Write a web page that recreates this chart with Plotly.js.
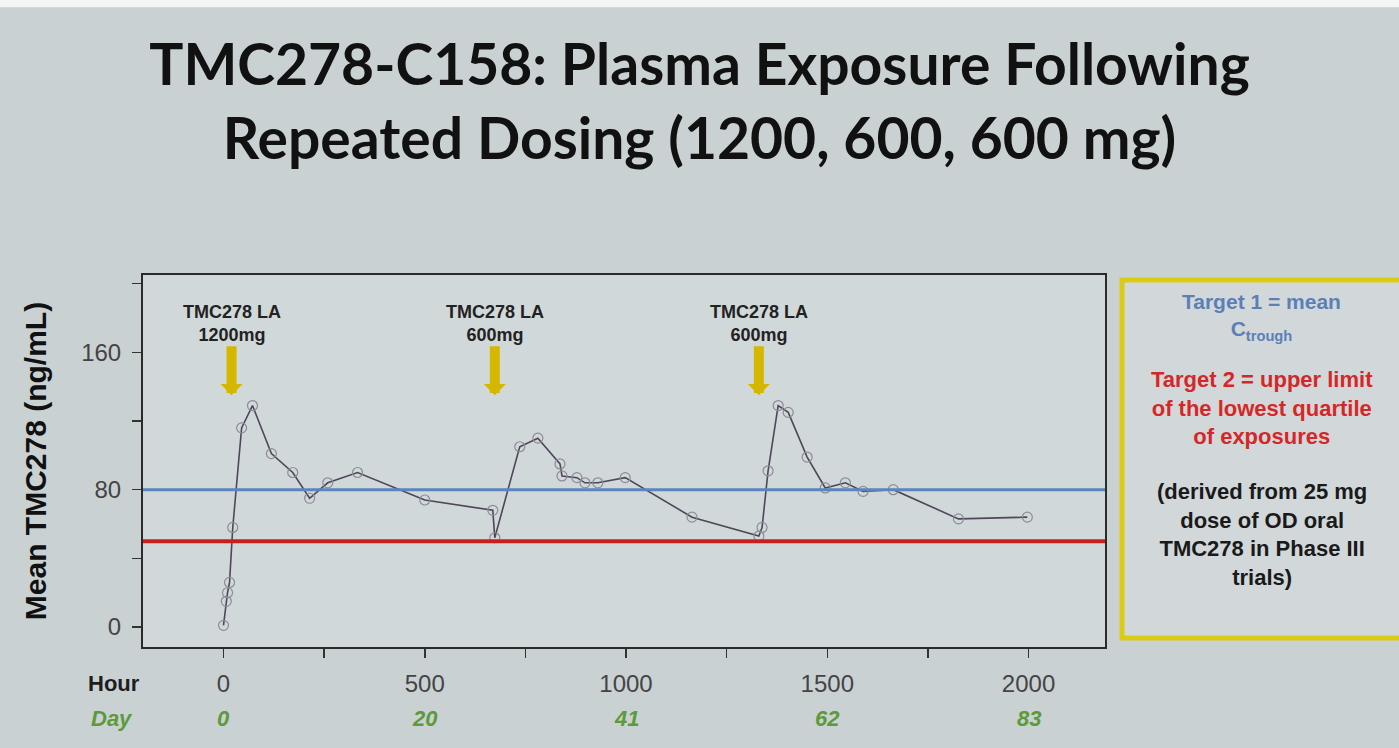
<!DOCTYPE html>
<html>
<head>
<meta charset="utf-8">
<script src="https://cdn.plot.ly/plotly-3.0.1.min.js"></script>
<style>
  html, body { margin: 0; padding: 0; background: #cad1d3; }
  #chart { width: 1399px; height: 748px; }
</style>
</head>
<body>
<div id="chart"></div>
<script>
// ---- data ----
const hours = [0, 7, 10, 15, 23, 45, 72, 119, 172, 214, 259, 333, 500, 669, 674, 736, 781, 836, 841, 878, 898, 930, 998, 1164, 1330, 1338, 1353, 1378, 1403, 1450, 1495, 1545, 1589, 1664, 1826, 1997];
const conc  = [1, 15, 20, 26, 58, 116, 129, 101, 90, 75, 84, 90, 74, 68, 52, 105, 110, 95, 88, 87, 84, 84, 87, 64, 53, 58, 91, 129, 125, 99, 81, 84, 79, 80, 63, 64];

const target1 = 80;   // mean Ctrough (blue)
const target2 = 50;   // upper limit lowest quartile (red)

const doseHours  = [20, 674, 1330];
const doseLabels = ["TMC278 LA<br>1200mg", "TMC278 LA<br>600mg", "TMC278 LA<br>600mg"];

const xTickVals  = [0, 250, 500, 750, 1000, 1250, 1500, 1750, 2000];
const xTickText  = ["0", " ", "500", " ", "1000", " ", "1500", " ", "2000"];
const dayHours   = [0, 500, 1000, 1500, 2000];
const dayLabels  = ["0", "20", "41", "62", "83"];
const yTickVals  = [0, 40, 80, 120, 160, 200];
const yTickText  = ["0", " ", "80", " ", "160", " "];

const titleText = "TMC278-C158: Plasma Exposure Following<br>Repeated Dosing (1200, 600, 600 mg)";
const yTitle = "Mean TMC278 (ng/mL)";
const boxBlue  = "Target 1 = mean<br>C<sub>trough</sub>";
const boxRed   = "Target 2 = upper limit<br>of the lowest quartile<br>of exposures";
const boxBlack = "(derived from 25 mg<br>dose of OD oral<br>TMC278 in Phase III<br>trials)";

// ---- traces ----
const traces = [{
  x: hours, y: conc,
  type: "scatter", mode: "lines+markers",
  line: { color: "#4d4759", width: 1.6 },
  marker: { symbol: "circle-open", size: 10, color: "#8d8c95", line: { width: 1.2 } },
  hoverinfo: "x+y"
}];

const W = "Liberation Sans, Arial, sans-serif";

const annotations = [];
doseHours.forEach((h, i) => {
  annotations.push({
    x: h, y: 135, xref: "x", yref: "y",
    text: "<b>" + doseLabels[i] + "</b>",
    showarrow: true, ax: 0, ay: -72,
    arrowhead: 1, arrowwidth: 10, arrowsize: 0.37, arrowcolor: "#d6b700",
    font: { family: W, size: 18, color: "#222" }
  });
});
dayHours.forEach((h, i) => {
  annotations.push({
    x: h, y: -0.191, xref: "x", yref: "paper",
    text: "<b><i>" + dayLabels[i] + "</i></b>", showarrow: false,
    xanchor: "center", yanchor: "middle",
    font: { family: W, size: 22, color: "#5c9a3a" }
  });
});
annotations.push({
  x: -0.001, y: -0.097, xref: "paper", yref: "paper", text: "<b>Hour</b>",
  showarrow: false, xanchor: "right", yanchor: "middle",
  font: { family: W, size: 22, color: "#1e1e1e" }
});
annotations.push({
  x: -0.008, y: -0.191, xref: "paper", yref: "paper", text: "<b><i>Day</i></b>",
  showarrow: false, xanchor: "right", yanchor: "middle",
  font: { family: W, size: 22, color: "#5c9a3a" }
});
annotations.push({
  x: 1.1632, y: 0.8858, xref: "paper", yref: "paper", text: "<b>" + boxBlue + "</b>",
  showarrow: false, xanchor: "center", yanchor: "middle",
  font: { family: W, size: 21, color: "#5b80b6" }
});
annotations.push({
  x: 1.1632, y: 0.6425, xref: "paper", yref: "paper", text: "<b>" + boxRed + "</b>",
  showarrow: false, xanchor: "center", yanchor: "middle",
  font: { family: W, size: 22, color: "#d42828" }
});
annotations.push({
  x: 1.1632, y: 0.3024, xref: "paper", yref: "paper", text: "<b>" + boxBlack + "</b>",
  showarrow: false, xanchor: "center", yanchor: "middle",
  font: { family: W, size: 22, color: "#1a1a1a" }
});

const shapes = [
  { type: "rect", xref: "paper", yref: "paper", x0: -0.3, x1: 1.5, y0: 1.72, y1: 1.8,
    fillcolor: "#f4f6f6", line: { width: 0 }, layer: "below" },
  { type: "line", xref: "paper", yref: "y", x0: 0, x1: 1, y0: target1, y1: target1,
    line: { color: "#5b85bd", width: 3 } },
  { type: "line", xref: "paper", yref: "y", x0: 0, x1: 1, y0: target2, y1: target2,
    line: { color: "#c81f1e", width: 4 } },
  { type: "rect", xref: "paper", yref: "paper", x0: 1.0177, x1: 1.33, y0: 0.0242, y1: 0.9866,
    fillcolor: "#d2d8da", line: { color: "#dccb14", width: 5 }, layer: "below" }
];

const layout = {
  width: 1399, height: 748,
  paper_bgcolor: "#cad1d3",
  plot_bgcolor: "#d1d8da",
  margin: { l: 143, r: 294, t: 275, b: 101 },
  showlegend: false,
  title: {
    text: "<b>" + titleText + "</b>",
    x: 0.5, xanchor: "center", xref: "container",
    y: 0.887, yanchor: "top", yref: "container",
    font: { family: "Lato, 'Open Sans', sans-serif", size: 57, color: "#111" }
  },
  xaxis: {
    range: [-200, 2190],
    tickmode: "array", tickvals: xTickVals, ticktext: xTickText,
    ticks: "outside", ticklen: 9, tickwidth: 1.5, tickcolor: "#333",
    showline: true, linecolor: "#2a2a2a", linewidth: 2, mirror: true,
    showgrid: false, zeroline: false,
    ticklabelstandoff: 5,
    tickfont: { family: W, size: 24, color: "#444" }
  },
  yaxis: {
    range: [-11.6, 205],
    tickmode: "array", tickvals: yTickVals, ticktext: yTickText,
    ticks: "outside", ticklen: 9, tickwidth: 1.5, tickcolor: "#333",
    showline: true, linecolor: "#2a2a2a", linewidth: 2, mirror: true,
    showgrid: false, zeroline: false,
    ticklabelstandoff: 6,
    tickfont: { family: W, size: 24, color: "#444" },
    title: { text: "<b>" + yTitle + "</b>", standoff: 26,
             font: { family: W, size: 30, color: "#111" } }
  },
  annotations: annotations,
  shapes: shapes
};

Plotly.newPlot("chart", traces, layout, { displayModeBar: false, staticPlot: true });
</script>
</body>
</html>
